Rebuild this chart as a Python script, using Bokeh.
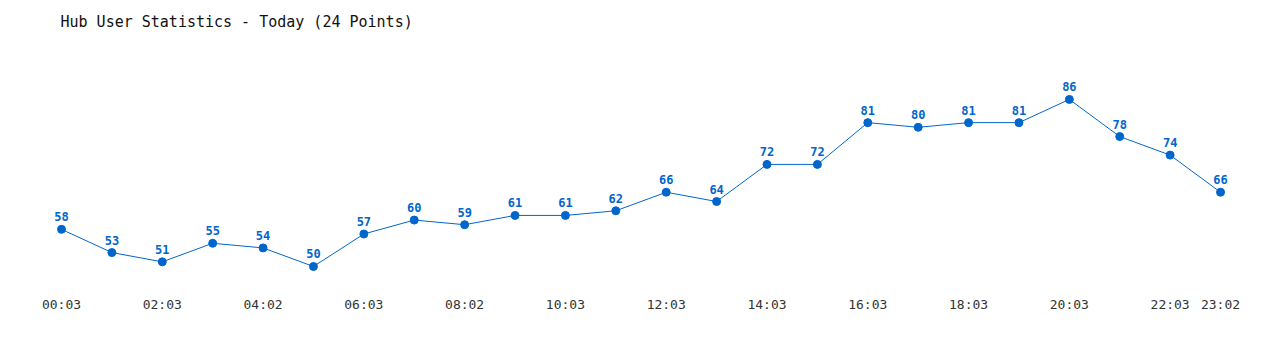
from bokeh.plotting import figure
from bokeh.models import ColumnDataSource, FixedTicker, Range1d
from bokeh.core.properties import value
from bokeh.embed import file_html
from bokeh.resources import INLINE

users = [58, 53, 51, 55, 54, 50, 57, 60, 59, 61, 61, 62, 66, 64, 72, 72, 81, 80, 81, 81, 86, 78, 74, 66]
tick_index = [0, 2, 4, 6, 8, 10, 12, 14, 16, 18, 20, 22, 23]
tick_labels = ["00:03", "02:03", "04:02", "06:03", "08:02", "10:03", "12:03",
               "14:03", "16:03", "18:03", "20:03", "22:03", "23:02"]

idx = list(range(len(users)))
src = ColumnDataSource(dict(x=idx, y=users, lbl=[str(v) for v in users]))

BLUE = "#0066cc"
FONT = "DejaVu Sans Mono"

p = figure(width=1280, height=350, output_backend="svg", toolbar_location=None,
           x_range=Range1d(-1.2105, 24.19), y_range=Range1d(45.9, 98.7),
           min_border_left=0, min_border_right=0, min_border_top=40, min_border_bottom=65)
p.title.text = "Hub User Statistics - Today (24 Points)"
p.title.text_font = FONT
p.title.text_font_size = "15px"
p.title.text_font_style = "normal"
p.title.text_color = "#111111"
p.title.offset = 60
p.title.standoff = 19

p.outline_line_color = None
p.grid.grid_line_color = None
p.yaxis.visible = False

p.line("x", "y", source=src, line_color=BLUE, line_width=1)
p.scatter("x", "y", source=src, size=8, fill_color=BLUE, line_color=BLUE)
p.text("x", "y", text="lbl", source=src, text_font=value(FONT), text_font_size="12px",
       text_font_style="bold", text_color=BLUE, text_align="center",
       text_baseline="bottom", y_offset=-8)

ax = p.xaxis[0]
ax.ticker = FixedTicker(ticks=tick_index)
ax.major_label_overrides = {i: t for i, t in zip(tick_index, tick_labels)}
ax.axis_line_color = None
ax.major_tick_line_color = None
ax.minor_tick_line_color = None
ax.major_tick_out = 0
ax.major_label_standoff = 11
ax.major_label_text_font = FONT
ax.major_label_text_font_size = "13px"
ax.major_label_text_color = "#333333"

open("out.html", "w").write(file_html(p, INLINE))
